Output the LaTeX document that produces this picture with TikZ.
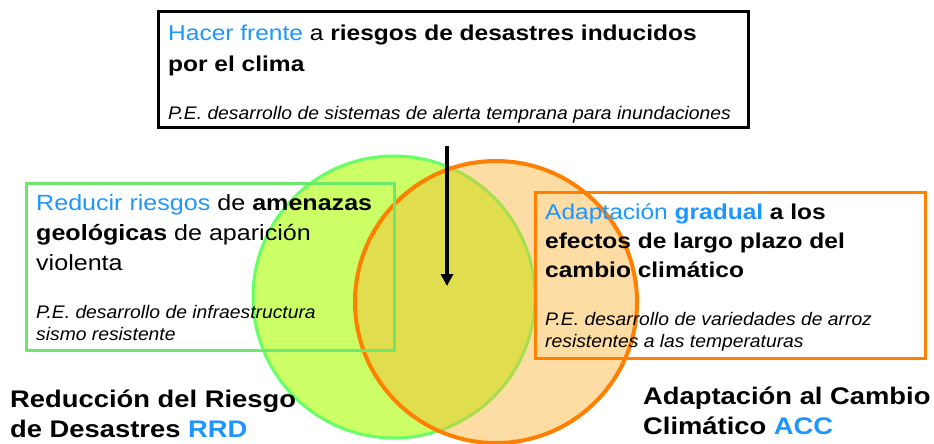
\documentclass[tikz,border=0pt]{standalone}
\usepackage{fontspec}
\setmainfont{Liberation Sans}[FakeStretch=1.14]
\newfontfamily\pefont{Liberation Sans}[FakeStretch=1.06]
\usepackage{xcolor}
\usetikzlibrary{arrows.meta,positioning,calc}
\definecolor{accblue}{RGB}{30,150,255}
\definecolor{rrdgreen}{RGB}{102,255,102}
\definecolor{rrdfill}{RGB}{204,255,102}
\definecolor{accorange}{RGB}{255,128,0}
\definecolor{accfill}{RGB}{250,180,50}
\newcommand{\hl}[1]{\textcolor{accblue}{#1}}
\tikzset{
	box/.style={draw, line width=3pt, inner sep=0pt},
	maintext/.style={anchor=base west, inner sep=0pt, align=left},
	petext/.style={anchor=base west, inner sep=0pt, align=left, font=\fontsize{18.2}{21.5}\selectfont\pefont\itshape},
	biglabel/.style={anchor=base west, inner sep=0pt, align=left, font=\fontsize{24}{29.5}\selectfont\bfseries},
	arrow/.style={-{Triangle[length=12pt, width=12pt]}, line width=4pt}
}

\begin{document}
\begin{tikzpicture}[x=1pt, y=-1pt]
	\useasboundingbox (0,0) rectangle (934,444);
	
	% the two fields
	\node[circle, minimum size=282pt, draw=rrdgreen, line width=3pt, fill=rrdfill] (rrd) at (394,297) {};
	\node[circle, minimum size=282pt, draw=accorange, line width=4pt, fill=accfill, fill opacity=0.45] (acc) at (496,302) {};
	
	% boxes
	\node[box, minimum width=590pt, minimum height=116pt, fill=white] (clima) at (453.5,69.5) {};
	\node[box, draw=rrdgreen!90!black!90, minimum width=368pt, minimum height=167pt] (geo) at (210.5,267) {};
	\node[box, draw=accorange, minimum width=390pt, minimum height=166pt] (grad) at (730.5,275.5) {};
	
	% base = last line
	\node[maintext, font=\fontsize{21.5}{31}\selectfont] (climatxt) at (168,71)
	{\hl{Hacer frente} a \textbf{riesgos de desastres inducidos}\\\textbf{por el clima}};
	\node[petext] (climape) at (168,119)
	{P.E. desarrollo de sistemas de alerta temprana para inundaciones};
	
	\node[maintext, font=\fontsize{22}{30}\selectfont] (geotxt) at (36,270)
	{\hl{Reducir riesgos} de \textbf{amenazas}\\\textbf{geológicas} de aparición\\violenta};
	\node[petext] (geope) at (36,340)
	{P.E. desarrollo de infraestructura\\sismo resistente};
	
	\node[maintext, font=\fontsize{21.5}{29}\selectfont\bfseries] (gradtxt) at (545,277)
	{\hl{\mdseries Adaptación} \hl{gradual} a los\\efectos de largo plazo del\\cambio climático};
	\node[petext] (gradpe) at (545,347)
	{P.E. desarrollo de variedades de arroz\\resistentes a las temperaturas};
	
	% field names
	\node[biglabel] (rrdlabel) at (10,437) {Reducción del Riesgo\\de Desastres \hl{RRD}};
	\node[biglabel] (acclabel) at (643,434) {Adaptación al Cambio\\Climático \hl{ACC}};
	
	\coordinate (overlap) at (447,286);
	\draw[arrow] ([xshift=-6.5pt, yshift=-17pt]clima.south) -- (overlap);
\end{tikzpicture}
\end{document}
